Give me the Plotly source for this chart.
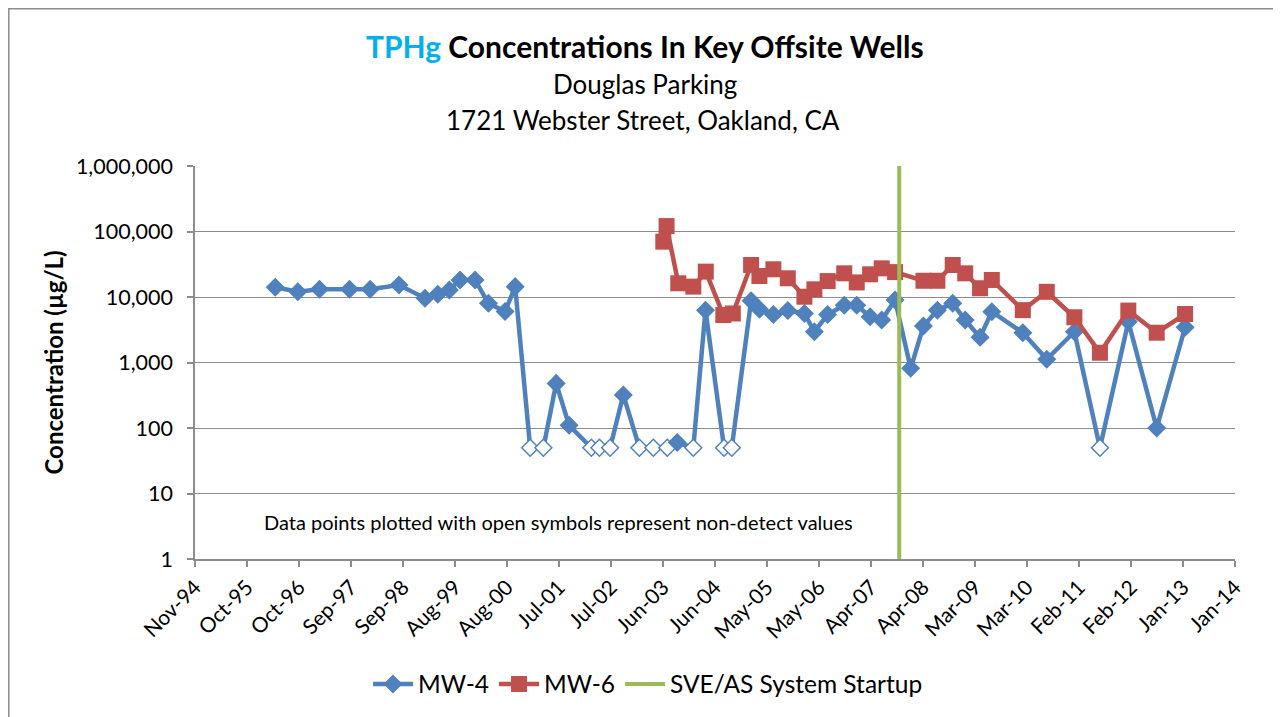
import plotly.graph_objects as go

# ---------------- data ----------------
mw4_dates = [
    "1996-05-03", "1996-10-02", "1997-02-25", "1997-09-15", "1998-02-01", "1998-08-14",
    "1999-02-05", "1999-05-02", "1999-07-19", "1999-09-29", "2000-01-08", "2000-04-07",
    "2000-07-28", "2000-10-04", "2001-01-13", "2001-04-12", "2001-07-07", "2001-10-02",
    "2002-03-01", "2002-04-24", "2002-07-05", "2002-10-02", "2003-01-18", "2003-04-22",
    "2003-07-25", "2003-09-30", "2004-01-16", "2004-04-07", "2004-08-10", "2004-10-01",
    "2005-02-08", "2005-04-05", "2005-07-08", "2005-10-13", "2006-02-02", "2006-04-10",
    "2006-07-08", "2006-10-28", "2007-01-20", "2007-04-20", "2007-07-07", "2007-10-05",
    "2008-01-18", "2008-04-13", "2008-07-16", "2008-10-27", "2009-01-19", "2009-04-29",
    "2009-07-17", "2010-02-11", "2010-07-22", "2011-01-24", "2011-07-15", "2012-01-22",
    "2012-07-31", "2013-02-07",
]
mw4_values = [
    14100, 12000, 13100, 13100, 13100, 15200,
    9600, 11000, 12800, 18200, 18200, 8000,
    6000, 14400, 50, 50, 480, 110,
    50, 50, 50, 320, 50, 50,
    50, 60, 50, 6300, 50, 50,
    8800, 6500, 5400, 6200, 5600, 2950,
    5400, 7500, 7500, 5000, 4450, 9000,
    815, 3600, 6300, 8000, 4450, 2420,
    5970, 2850, 1120, 2950, 50, 4200,
    100, 3440,
]
# 1 = non-detect (plotted with open symbol)
mw4_nondetect = [
    0, 0, 0, 0, 0, 0,
    0, 0, 0, 0, 0, 0,
    0, 0, 1, 1, 0, 0,
    1, 1, 1, 0, 1, 1,
    1, 0, 1, 0, 1, 1,
    0, 0, 0, 0, 0, 0,
    0, 0, 0, 0, 0, 0,
    0, 0, 0, 0, 0, 0,
    0, 0, 0, 0, 1, 0,
    0, 0,
]

mw6_dates = [
    "2003-06-28", "2003-07-20", "2003-10-07", "2004-01-16", "2004-04-09", "2004-08-05",
    "2004-10-08", "2005-02-08", "2005-04-05", "2005-07-08", "2005-10-13", "2006-02-02",
    "2006-04-10", "2006-07-08", "2006-10-28", "2007-01-20", "2007-04-20", "2007-07-07",
    "2007-10-05", "2008-04-13", "2008-07-16", "2008-10-27", "2009-01-19", "2009-04-29",
    "2009-07-17", "2010-02-11", "2010-07-22", "2011-01-24", "2011-07-15", "2012-01-22",
    "2012-07-31", "2013-02-07",
]
mw6_values = [
    70000, 121000, 16200, 14400, 24400, 5300,
    5600, 30800, 20900, 26500, 19300, 10100,
    13100, 17500, 23000, 16700, 22200, 27400,
    24000, 17700, 17700, 30800, 23000, 13600,
    18200, 6300, 12000, 4900, 1410, 6200,
    2850, 5500,
]

startup_date = "2007-11-02"
y_tick_values = [1, 10, 100, 1000, 10000, 100000, 1000000]
y_tick_labels = ["1", "10", "100", "1,000", "10,000", "100,000", "1,000,000"]
x_axis_start = "1994-11-10"
x_axis_end = "2014-01-09"
x_tick_step_days = 350

# ---------------- styles ----------------
BLUE = "#4F81BD"
RED = "#C0504D"
GREEN = "#9BBB59"
GRID = "#8C8C8C"
FONT = "Lato"

# page body has an 8px margin; figure is sized so the plot area lands at x 195-1235, y 166-559
W, H = 1273, 709
ML, MR, MT, MB = 187, 46, 158, 158
PW, PH = W - ML - MR, H - MT - MB


def px(xp):  # page x -> paper x
    return (xp - 8 - ML) / PW


def py(yp):  # page y -> paper y
    return (H - MB - (yp - 8)) / PH


fig = go.Figure()

fig.add_trace(go.Scatter(
    x=mw4_dates, y=mw4_values, name="MW-4", mode="lines+markers",
    line=dict(color=BLUE, width=4.5),
    marker=dict(symbol="diamond", size=13,
                color=["white" if nd else BLUE for nd in mw4_nondetect],
                line=dict(color=BLUE, width=1.5)),
))
fig.add_trace(go.Scatter(
    x=mw6_dates, y=mw6_values, name="MW-6", mode="lines+markers",
    line=dict(color=RED, width=4.5),
    marker=dict(symbol="square", size=16, color=RED),
))
fig.add_trace(go.Scatter(
    x=[startup_date, startup_date], y=[y_tick_values[0], y_tick_values[-1]],
    name="SVE/AS System Startup", mode="lines",
    line=dict(color=GREEN, width=4),
))

fig.update_layout(
    width=W, height=H,
    margin=dict(l=ML, r=MR, t=MT, b=MB, autoexpand=False),
    paper_bgcolor="white", plot_bgcolor="white",
    font=dict(family=FONT, color="black", size=20),
    showlegend=True,
    legend=dict(orientation="h", x=px(648), xanchor="center", y=py(684), yanchor="middle",
                font=dict(size=24.5, family=FONT), bgcolor="rgba(0,0,0,0)",
                traceorder="normal", itemwidth=40),
)

fig.update_xaxes(
    type="date", range=[x_axis_start, x_axis_end],
    tick0=x_axis_start, dtick=x_tick_step_days * 86400000,
    tickformat="%b-%y", tickangle=-45,
    ticks="outside", ticklen=6, tickcolor=GRID, tickwidth=1.5,
    showline=True, linecolor=GRID, linewidth=1.5,
    showgrid=False, zeroline=False,
    tickfont=dict(size=21, family=FONT, color="black"),
)
fig.update_yaxes(
    type="log", range=[0, 6],
    tickvals=y_tick_values, ticktext=y_tick_labels,
    ticks="outside", ticklen=6, tickcolor=GRID, tickwidth=1.5,
    showline=True, linecolor=GRID, linewidth=1.5,
    showgrid=True, gridcolor=GRID, gridwidth=1.2,
    zeroline=False,
    tickfont=dict(size=21.5, family=FONT, color="black"),
    ticklabelstandoff=10,
)

annotations = [
    dict(text="<b><span style='color:#00B0F0'>TPHg</span> Concentrations In Key Offsite Wells</b>",
         x=px(645), y=py(46), font=dict(size=30, family=FONT, color="black")),
    dict(text="Douglas Parking", x=px(645), y=py(84), font=dict(size=26, family=FONT, color="black")),
    dict(text="1721 Webster Street, Oakland, CA", x=px(643), y=py(120),
         font=dict(size=26, family=FONT, color="black")),
    dict(text="Data points plotted with open symbols represent non-detect values",
         x=px(558), y=py(522), font=dict(size=20, family=FONT, color="black")),
    dict(text="<b>Concentration (µg/L)</b>", x=px(53), y=0.5, textangle=-90,
         font=dict(size=24, family=FONT, color="black")),
]
for a in annotations:
    a.update(xref="paper", yref="paper", showarrow=False, xanchor="center", yanchor="middle")
fig.update_layout(annotations=annotations)

# chart-area border
fig.add_shape(type="rect", xref="paper", yref="paper",
              x0=px(8.8), x1=px(1279),
              y0=py(730), y1=py(8.8),
              line=dict(color="#8C8C8C", width=1.5), fillcolor="rgba(0,0,0,0)", layer="below")

fig.write_html("out.html")
